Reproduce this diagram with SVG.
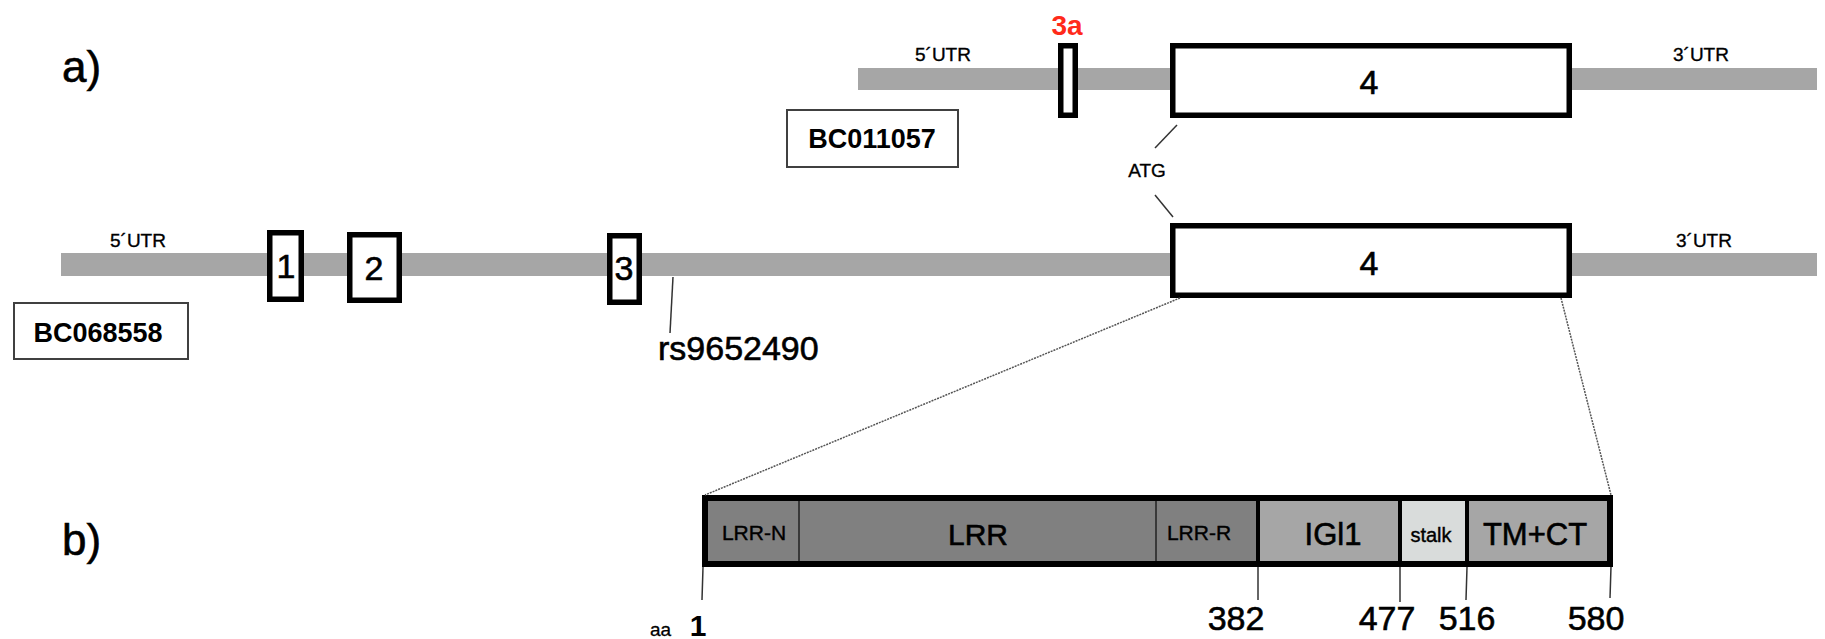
<svg xmlns="http://www.w3.org/2000/svg" width="1825" height="639" viewBox="0 0 1825 639">
<style>
text{font-family:"Liberation Sans",Arial,sans-serif;fill:#000}
.heavy{stroke:#000;stroke-width:0.6}
.bar{fill:#a6a6a6}
.exon{fill:#fff;stroke:#000;stroke-width:5.5}
.utr{font-size:19px;stroke:#000;stroke-width:0.35}
.num{font-size:34px;text-anchor:middle;stroke:#000;stroke-width:0.6}
.lbl{fill:#fff;stroke:#404040;stroke-width:2}
.acc{font-size:27px;font-weight:bold;text-anchor:middle}
.line{stroke:#333;stroke-width:1.5;fill:none}
.dot{stroke:#555;stroke-width:1.5;stroke-dasharray:2 1;fill:none}
.dom{font-size:21px;text-anchor:middle;stroke:#000;stroke-width:0.4}
.big{font-size:31px;text-anchor:middle;stroke:#000;stroke-width:0.6}
.div{stroke:#000;stroke-width:4}
.thin{stroke:#222;stroke-width:1.5}
</style>
<text class="heavy" x="62" y="82" font-size="44">a)</text>
<text class="heavy" x="62" y="555" font-size="44">b)</text>
<g id="transcript-BC011057">
<rect class="bar" x="858" y="68" width="959" height="22"/>
<text class="utr" x="915" y="61">5´UTR</text>
<text class="utr" x="1673" y="61">3´UTR</text>
</g>
<g id="exon-3a">
<rect class="exon" x="1060.75" y="45.75" width="14.5" height="69.5"/>
<text x="1067" y="35" font-size="28" font-weight="bold" text-anchor="middle" style="fill:#ff2a1a">3a</text>
</g>
<g id="exon-4-top">
<rect class="exon" x="1172.75" y="45.75" width="396.5" height="69.5"/>
<text class="num" x="1369" y="94">4</text>
</g>
<g id="label-BC011057">
<rect class="lbl" x="787" y="110" width="171" height="57"/>
<text class="acc" x="872" y="148">BC011057</text>
</g>
<g id="transcript-BC068558">
<rect class="bar" x="61" y="253" width="1756" height="23"/>
<text class="utr" x="110" y="247">5´UTR</text>
<text class="utr" x="1676" y="247">3´UTR</text>
</g>
<g id="exon-1">
<rect class="exon" x="269.75" y="232.75" width="31.5" height="66.5"/>
<text class="num" x="286" y="278">1</text>
</g>
<g id="exon-2">
<rect class="exon" x="349.75" y="234.75" width="49.5" height="65.5"/>
<text class="num" x="374" y="280">2</text>
</g>
<g id="exon-3">
<rect class="exon" x="609.75" y="235.75" width="29.5" height="66.5"/>
<text class="num" x="624" y="280">3</text>
</g>
<g id="exon-4-bottom">
<rect class="exon" x="1172.75" y="225.75" width="396.5" height="69.5"/>
<text class="num" x="1369" y="275">4</text>
</g>
<g id="label-BC068558">
<rect class="lbl" x="14" y="303" width="174" height="56"/>
<text class="acc" x="98" y="342">BC068558</text>
</g>
<g id="atg">
<text x="1147" y="177" font-size="19" text-anchor="middle" stroke="#000" stroke-width="0.35">ATG</text>
</g>
<g id="snp">
<text class="heavy" x="658" y="360" font-size="34">rs9652490</text>
</g>
<g id="protein">
<rect x="705" y="498" width="553" height="66" fill="#808080"/>
<rect x="1258" y="498" width="142" height="66" fill="#a6a6a6"/>
<rect x="1400" y="498" width="67" height="66" fill="#d9dcdb"/>
<rect x="1467" y="498" width="143" height="66" fill="#a6a6a6"/>
<line class="thin" x1="799" y1="498" x2="799" y2="564"/>
<line class="thin" x1="1156" y1="498" x2="1156" y2="564"/>
<line class="div" x1="1258" y1="498" x2="1258" y2="564"/>
<line class="div" x1="1400" y1="498" x2="1400" y2="564"/>
<line class="div" x1="1467" y1="498" x2="1467" y2="564"/>
<rect x="705" y="498" width="905" height="66" fill="none" stroke="#000" stroke-width="6"/>
<text class="dom" x="754" y="540">LRR-N</text>
<text class="big" x="978" y="545" style="font-size:30px">LRR</text>
<text class="dom" x="1199" y="540">LRR-R</text>
<text class="big" x="1333" y="545">IGl1</text>
<text class="dom" x="1431" y="542" style="font-size:20px">stalk</text>
<text class="big" x="1535" y="545">TM+CT</text>
</g>
<g id="positions">
<text x="650" y="636" font-size="19" stroke="#000" stroke-width="0.3">aa</text>
<text x="698" y="636" font-size="30" font-weight="bold" text-anchor="middle">1</text>
<text class="num" x="1236" y="630">382</text>
<text class="num" x="1387" y="630">477</text>
<text class="num" x="1467" y="630">516</text>
<text class="num" x="1596" y="630">580</text>
</g>
<g id="connectors">
<line class="line" x1="1177" y1="125" x2="1155" y2="148"/>
<line class="line" x1="1155" y1="195" x2="1173" y2="217"/>
<line class="line" x1="673" y1="277" x2="670" y2="333"/>
<line class="dot" x1="1180" y1="298" x2="705" y2="495"/>
<line class="dot" x1="1561" y1="298" x2="1611" y2="495"/>
<line class="line" x1="703" y1="567" x2="702" y2="600"/>
<line class="line" x1="1258" y1="567" x2="1258" y2="600"/>
<line class="line" x1="1400" y1="567" x2="1400" y2="602"/>
<line class="line" x1="1467" y1="567" x2="1466" y2="600"/>
<line class="line" x1="1611" y1="567" x2="1610" y2="598"/>
</g>
</svg>
